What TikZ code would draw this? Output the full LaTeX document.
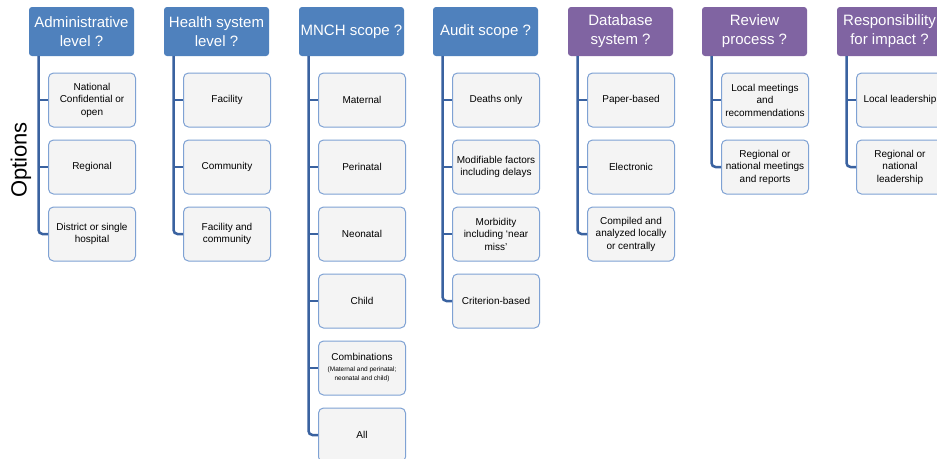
\documentclass[tikz,border=0pt]{standalone}
\usepackage{fontspec}
\setmainfont{Liberation Sans}
\definecolor{hblue}{HTML}{4F81BD}
\definecolor{hpurple}{HTML}{8064A2}
\definecolor{optborder}{HTML}{7FA2D4}
\definecolor{optfill}{HTML}{F4F4F4}
\definecolor{linecol}{HTML}{3A62A0}
\tikzset{
  hdr/.style={fill=#1, rounded corners=3pt, minimum width=105pt, minimum height=49pt,
    text=white, font=\fontsize{15}{19}\selectfont, align=center, inner sep=0pt},
  opt/.style={draw=optborder, line width=1pt, fill=optfill, rounded corners=5pt,
    minimum width=87pt, minimum height=54pt, font=\fontsize{10}{12.5}\selectfont,
    align=center, inner sep=1pt},
  conn/.style={draw=linecol, line width=2.5pt, rounded corners=4pt}
}
\begin{document}
\begin{tikzpicture}[x=1pt,y=-1pt]
\useasboundingbox (0,0) rectangle (937,458);
\clip (0,0) rectangle (937,458);
\fill[white] (0,0) rectangle (937,458);

\node[rotate=90, font=\fontsize{22}{26}\selectfont] (opts) at (21,160) {Options};

% headers
\node[hdr=hblue] (h1) at (81.5,31.5) {Administrative\\level ?};
\node[hdr=hblue] (h2) at (216.5,31.5) {Health system\\level ?};
\node[hdr=hblue] (h3) at (351.5,31.5) {MNCH scope ?};
\node[hdr=hblue] (h4) at (485.5,31.5) {Audit scope ?};
\node[hdr=hpurple] (h5) at (620.5,31.5) {Database\\system ?};
\node[hdr=hpurple] (h6) at (754.5,31.5) {Review\\process ?};
\node[hdr=hpurple] (h7) at (889.5,31.5) {Responsibility\\for impact ?};

% trunk start points
\foreach \i/\x in {1/38.5,2/173.5,3/308.5,4/442.5,5/577.5,6/711.5,7/846.5}
  \coordinate (t\i) at (\x,56);

% column 1
\node[opt] (c11) at (92,100) {National\\Confidential or\\open};
\node[opt] (c12) at (92,167) {Regional};
\node[opt] (c13) at (92,234) {District or single\\hospital};
% column 2
\node[opt] (c21) at (227,100) {Facility};
\node[opt] (c22) at (227,167) {Community};
\node[opt] (c23) at (227,234) {Facility and\\community};
% column 3
\node[opt] (c31) at (362,100) {Maternal};
\node[opt] (c32) at (362,167) {Perinatal};
\node[opt] (c33) at (362,234) {Neonatal};
\node[opt] (c34) at (362,301) {Child};
\node[opt] (c35) at (362,368) {Combinations\\[-2pt]{\fontsize{6.5}{8.5}\selectfont (Maternal and perinatal;}\\[-3pt]{\fontsize{6.5}{8.5}\selectfont neonatal and child)}};
\node[opt] (c36) at (362,435) {All};
% column 4
\node[opt] (c41) at (496,100) {Deaths only};
\node[opt] (c42) at (496,167) {Modifiable factors\\including delays};
\node[opt] (c43) at (496,234) {Morbidity\\including ‘near\\miss’};
\node[opt] (c44) at (496,301) {Criterion-based};
% column 5
\node[opt] (c51) at (631,100) {Paper-based};
\node[opt] (c52) at (631,167) {Electronic};
\node[opt] (c53) at (631,234) {Compiled and\\analyzed locally\\or centrally};
% column 6
\node[opt] (c61) at (765,100) {Local meetings\\and\\recommendations};
\node[opt] (c62) at (765,167) {Regional or\\national meetings\\and reports};
% column 7
\node[opt] (c71) at (900,100) {Local leadership};
\node[opt] (c72) at (900,167) {Regional or\\national\\leadership};

% connectors
\draw[conn] (t1) |- (c13.west);
\draw[conn] (t1 |- c11.west) -- (c11.west);
\draw[conn] (t1 |- c12.west) -- (c12.west);

\draw[conn] (t2) |- (c23.west);
\draw[conn] (t2 |- c21.west) -- (c21.west);
\draw[conn] (t2 |- c22.west) -- (c22.west);

\draw[conn] (t3) |- (c36.west);
\foreach \j in {1,...,5} \draw[conn] (t3 |- c3\j.west) -- (c3\j.west);

\draw[conn] (t4) |- (c44.west);
\foreach \j in {1,...,3} \draw[conn] (t4 |- c4\j.west) -- (c4\j.west);

\draw[conn] (t5) |- (c53.west);
\foreach \j in {1,2} \draw[conn] (t5 |- c5\j.west) -- (c5\j.west);

\draw[conn] (t6) |- (c62.west);
\draw[conn] (t6 |- c61.west) -- (c61.west);

\draw[conn] (t7) |- (c72.west);
\draw[conn] (t7 |- c71.west) -- (c71.west);
\end{tikzpicture}
\end{document}
